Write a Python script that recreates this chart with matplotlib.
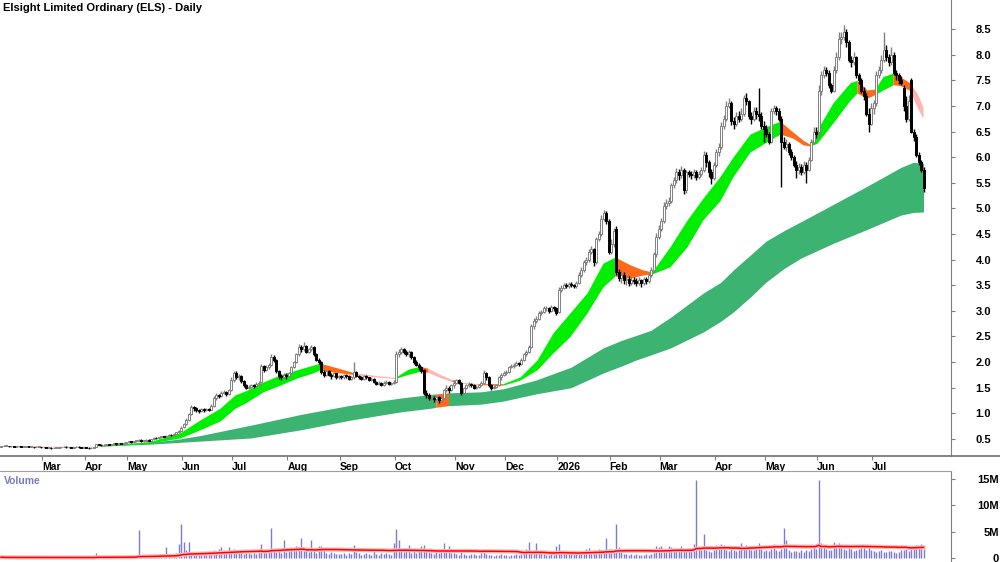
import numpy as np
import pandas as pd
import matplotlib
matplotlib.use('Agg')
import matplotlib.pyplot as plt
from matplotlib.lines import Line2D

plt.rcParams['font.family'] = ['Liberation Sans', 'DejaVu Sans']

# ---- daily OHLC (one row per month, Feb 2025 .. Jul 2026) ----
opens = [
    0.35,0.36,0.37,0.37,0.36,0.36,0.35,0.36,0.36,0.35,0.35,0.36,0.35,0.35,0.34,0.35,0.35,
    0.34,0.34,0.33,0.33,0.32,0.33,0.33,0.34,0.34,0.35,0.34,0.34,0.33,0.34,0.35,0.34,0.33,
    0.34,0.33,0.32,0.33,0.35,0.40,0.39,0.38,0.39,0.40,0.39,0.40,0.41,0.40,0.42,0.41,0.43,
    0.44,0.45,0.44,0.46,0.47,0.48,0.46,0.47,0.48,0.47,0.49,0.52,0.51,0.53,0.55,0.54,0.56,0.58,0.57,0.60,0.63,0.66,
    0.73,0.80,0.88,0.98,1.12,1.10,1.06,1.04,1.08,1.06,1.09,1.07,1.15,1.30,1.36,1.33,1.40,1.42,1.37,1.45,
    1.66,1.79,1.70,1.72,1.64,1.55,1.50,1.52,1.55,1.53,1.58,1.62,1.92,1.85,1.90,1.95,2.10,2.05,1.82,1.72,1.70,1.75,
    1.72,1.78,1.90,2.00,2.15,2.30,2.25,2.32,2.20,2.25,2.30,2.15,2.05,2.00,1.80,1.75,1.82,1.75,1.72,1.78,1.70,
    1.72,1.70,1.74,1.72,1.68,1.70,1.80,1.72,1.70,1.68,1.72,1.70,1.66,1.68,1.62,1.58,1.60,1.56,1.60,1.62,1.58,1.60,
    1.62,2.15,2.20,2.25,2.20,2.15,2.20,2.10,2.00,1.95,1.90,1.85,1.40,1.35,1.30,1.30,1.28,1.32,1.26,1.30,1.45,1.50,1.45,1.55,
    1.60,1.65,1.60,1.40,1.50,1.55,1.58,1.55,1.50,1.52,1.55,1.60,1.78,1.70,1.55,1.50,1.52,1.55,1.70,1.75,
    1.78,1.80,1.90,1.92,1.95,1.98,1.96,2.05,2.15,2.20,2.30,2.70,2.80,2.85,2.95,2.98,3.05,3.05,3.00,3.08,3.05,
    2.98,3.40,3.45,3.50,3.48,3.52,3.50,3.48,3.55,3.70,3.80,3.95,4.00,4.15,4.20,3.95,4.40,4.50,4.80,4.90,4.75,
    4.15,4.30,4.60,3.75,3.65,3.70,3.60,3.62,3.55,3.60,3.58,3.55,3.60,3.55,3.62,3.58,3.70,3.80,4.10,4.45,
    4.60,4.75,5.05,5.10,5.15,5.45,5.55,5.70,5.65,5.75,5.35,5.70,5.68,5.65,5.70,5.62,5.68,5.75,6.05,5.90,5.70,5.60,
    5.85,6.10,6.20,6.60,6.75,7.00,7.05,6.70,6.65,6.80,6.75,6.85,7.15,7.10,6.80,6.75,6.90,6.85,6.80,6.60,
    6.55,6.45,6.30,6.90,6.95,6.90,6.75,6.30,6.20,6.25,6.10,6.00,5.85,5.75,5.80,5.70,5.85,5.75,5.95,6.30,6.50,
    6.50,7.30,7.60,7.70,7.65,7.40,7.30,7.70,7.95,8.30,8.35,8.45,8.25,7.90,7.85,7.95,7.60,7.50,7.30,7.20,6.85,6.65,
    6.95,7.05,7.60,7.70,7.90,8.10,7.95,7.85,8.00,7.65,7.60,7.50,7.35,7.00,6.75,7.50,6.50,6.40,6.05,5.90,5.75,
]
highs = [
    0.37,0.38,0.38,0.37,0.37,0.36,0.37,0.37,0.36,0.36,0.37,0.36,0.36,0.35,0.36,0.36,0.35,
    0.35,0.35,0.34,0.34,0.34,0.34,0.35,0.35,0.36,0.36,0.35,0.35,0.35,0.36,0.36,0.35,0.35,
    0.35,0.34,0.34,0.35,0.41,0.41,0.40,0.40,0.41,0.41,0.41,0.42,0.42,0.43,0.43,0.44,0.45,
    0.46,0.46,0.47,0.48,0.50,0.49,0.48,0.49,0.49,0.50,0.54,0.53,0.54,0.56,0.56,0.57,0.59,0.59,0.61,0.64,0.68,0.75,
    0.82,0.90,1.00,1.16,1.15,1.12,1.08,1.10,1.10,1.11,1.10,1.18,1.33,1.40,1.38,1.43,1.46,1.43,1.48,1.70,
    1.83,1.82,1.76,1.74,1.66,1.58,1.56,1.58,1.58,1.61,1.64,1.96,1.95,1.94,1.99,2.16,2.14,2.06,1.84,1.76,1.79,1.78,
    1.80,1.93,2.03,2.18,2.36,2.33,2.39,2.33,2.28,2.34,2.31,2.18,2.08,2.02,1.84,1.85,1.84,1.78,1.80,1.79,1.75,
    1.75,1.77,1.76,1.74,1.72,2.00,1.82,1.74,1.72,1.75,1.74,1.71,1.70,1.69,1.64,1.63,1.62,1.63,1.65,1.64,1.62,1.65,
    2.22,2.26,2.30,2.28,2.24,2.24,2.22,2.12,2.04,1.98,1.93,1.86,1.45,1.40,1.34,1.34,1.35,1.34,1.33,1.48,1.55,1.53,1.58,1.66,
    1.68,1.68,1.62,1.52,1.58,1.61,1.60,1.57,1.55,1.57,1.63,1.84,1.80,1.72,1.57,1.55,1.58,1.73,1.78,1.82,
    1.84,1.93,1.96,1.98,2.02,2.00,2.08,2.18,2.24,2.34,2.75,2.86,2.90,2.99,3.02,3.10,3.10,3.08,3.12,3.10,3.07,
    3.46,3.50,3.55,3.54,3.57,3.56,3.53,3.58,3.76,3.85,4.00,4.06,4.20,4.27,4.22,4.45,4.56,4.88,4.97,4.95,4.80,
    4.40,4.62,4.65,3.82,3.78,3.75,3.70,3.68,3.66,3.66,3.64,3.66,3.62,3.66,3.66,3.75,3.86,4.15,4.52,4.68,
    4.82,5.12,5.18,5.22,5.50,5.62,5.78,5.76,5.82,5.78,5.75,5.74,5.72,5.76,5.74,5.72,5.80,6.12,6.10,5.95,5.76,5.90,
    6.15,6.28,6.68,6.82,7.10,7.15,7.10,6.78,6.88,6.90,6.95,7.22,7.25,7.12,6.88,6.98,6.98,7.35,6.88,6.70,
    6.62,6.50,6.95,7.02,7.00,6.95,6.80,6.40,6.35,6.30,6.15,6.05,5.92,5.88,5.86,5.92,5.90,6.00,6.36,6.58,6.58,
    7.40,7.68,7.78,7.76,7.70,7.45,7.78,8.05,8.45,8.45,8.58,8.50,8.28,7.98,8.05,7.98,7.65,7.55,7.36,7.25,6.95,7.05,
    7.12,7.68,7.78,8.00,8.45,8.18,8.02,8.15,8.05,7.70,7.65,7.58,7.40,7.20,7.22,7.55,6.55,6.45,6.10,5.95,5.80,
]
lows = [
    0.35,0.36,0.36,0.35,0.35,0.34,0.35,0.35,0.34,0.34,0.35,0.34,0.34,0.33,0.34,0.34,0.33,
    0.33,0.32,0.32,0.31,0.32,0.32,0.33,0.33,0.34,0.33,0.33,0.32,0.33,0.34,0.33,0.32,0.33,
    0.32,0.31,0.32,0.33,0.35,0.38,0.37,0.37,0.38,0.38,0.38,0.39,0.39,0.40,0.40,0.41,0.42,
    0.43,0.43,0.44,0.45,0.46,0.45,0.45,0.46,0.46,0.46,0.48,0.50,0.50,0.52,0.53,0.53,0.55,0.56,0.56,0.59,0.62,0.65,
    0.72,0.78,0.86,0.96,1.05,1.03,1.01,1.02,1.03,1.04,1.04,1.06,1.13,1.27,1.30,1.31,1.37,1.34,1.36,1.44,
    1.62,1.68,1.66,1.60,1.52,1.47,1.48,1.50,1.50,1.51,1.56,1.60,1.80,1.82,1.86,1.92,2.00,1.78,1.68,1.66,1.67,1.68,
    1.70,1.76,1.88,1.98,2.12,2.20,2.22,2.18,2.17,2.22,2.12,2.02,1.97,1.76,1.71,1.73,1.72,1.68,1.70,1.68,1.68,
    1.67,1.68,1.69,1.66,1.66,1.68,1.70,1.67,1.65,1.66,1.67,1.64,1.64,1.60,1.55,1.55,1.53,1.54,1.58,1.56,1.56,1.58,
    1.60,2.10,2.15,2.16,2.12,2.10,2.06,1.96,1.92,1.84,1.78,1.36,1.30,1.26,1.25,1.22,1.24,1.20,1.23,1.28,1.42,1.40,1.43,1.50,
    1.57,1.58,1.36,1.38,1.48,1.52,1.52,1.47,1.48,1.50,1.53,1.58,1.66,1.52,1.46,1.48,1.50,1.53,1.66,1.72,
    1.75,1.78,1.88,1.89,1.93,1.93,1.94,2.03,2.12,2.18,2.28,2.65,2.76,2.82,2.92,2.95,3.00,2.96,2.98,3.00,2.92,
    2.96,3.36,3.42,3.44,3.44,3.46,3.44,3.45,3.52,3.66,3.76,3.90,3.96,4.10,3.88,3.92,4.36,4.46,4.75,4.70,4.10,
    4.10,4.25,3.70,3.58,3.55,3.52,3.50,3.48,3.50,3.52,3.48,3.50,3.46,3.50,3.52,3.54,3.66,3.76,4.05,4.40,
    4.55,4.72,4.98,5.05,5.10,5.40,5.50,5.55,5.60,5.28,5.30,5.62,5.58,5.60,5.56,5.58,5.64,5.70,5.80,5.62,5.48,5.56,
    5.80,6.02,6.15,6.55,6.70,6.95,6.62,6.55,6.60,6.68,6.70,6.80,7.02,6.75,6.65,6.70,6.75,6.70,6.55,6.30,
    6.40,6.25,6.28,6.85,6.82,6.70,5.42,6.15,6.12,6.05,5.95,5.80,5.60,5.68,5.65,5.68,5.50,5.72,5.92,6.25,6.38,
    6.40,7.22,7.55,7.58,7.35,7.25,7.28,7.65,7.90,8.20,8.28,8.15,7.85,7.75,7.80,7.55,7.42,7.25,7.12,6.80,6.50,6.62,
    6.85,7.00,7.55,7.65,7.85,7.88,7.78,7.80,7.60,7.50,7.42,7.40,6.90,6.68,6.70,6.48,6.32,6.00,5.85,5.70,5.32,
]
closes = [
    0.36,0.37,0.37,0.36,0.36,0.35,0.36,0.36,0.35,0.35,0.36,0.35,0.35,0.34,0.35,0.35,0.34,
    0.34,0.33,0.33,0.32,0.33,0.33,0.34,0.34,0.35,0.34,0.34,0.33,0.34,0.35,0.34,0.33,0.34,
    0.33,0.32,0.33,0.34,0.40,0.39,0.38,0.39,0.40,0.39,0.40,0.41,0.40,0.42,0.41,0.43,0.44,
    0.45,0.44,0.46,0.47,0.48,0.46,0.47,0.48,0.47,0.49,0.52,0.51,0.53,0.55,0.54,0.56,0.58,0.57,0.60,0.63,0.66,0.72,
    0.80,0.88,0.98,1.12,1.10,1.06,1.04,1.08,1.06,1.09,1.07,1.15,1.30,1.36,1.33,1.40,1.42,1.37,1.45,1.66,
    1.79,1.70,1.72,1.64,1.55,1.50,1.52,1.55,1.53,1.58,1.60,1.92,1.85,1.90,1.95,2.10,2.05,1.82,1.72,1.70,1.75,1.72,
    1.78,1.90,2.00,2.15,2.30,2.25,2.32,2.20,2.25,2.30,2.15,2.05,2.00,1.80,1.75,1.82,1.75,1.72,1.78,1.70,1.72,
    1.70,1.74,1.72,1.68,1.70,1.80,1.72,1.70,1.68,1.72,1.70,1.66,1.68,1.62,1.58,1.60,1.56,1.60,1.62,1.58,1.60,1.62,
    2.15,2.20,2.25,2.20,2.15,2.20,2.10,2.00,1.95,1.90,1.82,1.40,1.35,1.30,1.30,1.28,1.32,1.26,1.30,1.45,1.50,1.45,1.55,1.60,
    1.65,1.60,1.40,1.50,1.55,1.58,1.55,1.50,1.52,1.55,1.60,1.78,1.70,1.55,1.50,1.52,1.55,1.70,1.75,1.78,
    1.80,1.90,1.92,1.95,1.98,1.96,2.05,2.15,2.20,2.30,2.70,2.80,2.85,2.95,2.98,3.05,3.05,3.00,3.08,3.05,2.95,
    3.40,3.45,3.50,3.48,3.52,3.50,3.48,3.55,3.70,3.80,3.95,4.00,4.15,4.20,3.95,4.40,4.50,4.80,4.90,4.75,4.15,
    4.30,4.55,3.75,3.65,3.70,3.60,3.62,3.55,3.60,3.58,3.55,3.60,3.55,3.62,3.58,3.70,3.80,4.10,4.45,4.60,
    4.75,5.05,5.10,5.15,5.45,5.55,5.70,5.65,5.75,5.35,5.70,5.68,5.65,5.70,5.62,5.68,5.75,6.05,5.90,5.70,5.60,5.85,
    6.10,6.20,6.60,6.75,7.00,7.05,6.70,6.65,6.80,6.75,6.85,7.15,7.10,6.80,6.75,6.90,6.85,6.80,6.60,6.55,
    6.45,6.30,6.90,6.95,6.90,6.75,6.30,6.20,6.25,6.10,6.00,5.85,5.75,5.80,5.70,5.85,5.75,5.95,6.30,6.50,6.45,
    7.30,7.60,7.70,7.65,7.40,7.30,7.70,7.95,8.30,8.35,8.45,8.25,7.90,7.85,7.95,7.60,7.50,7.30,7.20,6.85,6.65,6.95,
    7.05,7.60,7.70,7.90,8.10,7.95,7.85,8.00,7.65,7.60,7.50,7.45,7.00,6.75,7.10,6.50,6.40,6.05,5.90,5.75,5.40,
]
# volume in millions of shares
volume = [
    0.15,0.10,0.08,0.12,0.05,0.10,0.20,0.08,0.06,0.10,0.12,0.05,0.08,0.10,0.06,0.10,0.08,
    0.10,0.08,0.25,0.06,0.05,0.10,0.08,0.12,0.06,0.05,0.10,0.08,0.15,0.06,0.10,0.05,0.08,
    0.10,0.08,0.05,0.12,0.90,0.40,0.25,0.20,0.30,0.15,0.20,0.25,0.15,0.30,0.20,0.35,0.25,
    0.30,0.40,0.25,0.35,5.30,0.30,0.45,0.30,0.50,0.40,0.60,0.35,0.50,0.45,0.40,2.10,0.55,0.60,0.50,0.90,2.60,6.40,
    3.00,1.50,3.00,1.20,1.00,0.80,0.60,0.90,0.70,0.80,0.90,1.20,1.50,1.30,1.80,2.00,1.50,1.20,2.00,1.60,
    1.80,1.20,1.00,1.30,0.80,0.90,1.00,0.70,0.90,0.80,1.20,2.60,1.40,1.00,1.80,5.70,1.50,1.20,1.80,1.00,3.40,1.20,
    1.80,2.00,1.50,2.20,1.60,3.80,1.40,1.80,1.20,3.40,1.30,1.00,2.20,2.30,1.50,1.00,0.80,1.10,0.90,0.70,0.80,
    0.70,0.90,0.60,1.00,0.80,2.50,1.20,0.90,0.60,0.80,1.00,0.70,0.50,1.30,0.80,0.60,0.90,0.70,1.00,0.80,0.60,2.80,
    5.60,3.40,1.50,1.20,1.80,2.50,1.00,1.30,0.90,1.60,2.30,2.40,1.50,1.20,1.00,0.80,1.10,0.90,1.50,2.80,1.30,2.20,1.00,0.90,
    0.80,0.60,1.20,0.70,0.50,0.60,0.80,0.70,0.50,0.60,0.90,1.80,0.80,0.60,0.50,0.40,0.60,0.50,0.70,0.60,
    0.50,0.40,0.60,0.50,0.70,0.50,0.80,1.00,1.80,3.00,1.30,1.20,2.80,1.00,0.90,0.70,0.60,0.50,0.70,0.60,2.20,
    2.60,1.20,1.00,0.90,1.10,0.80,0.90,1.20,1.00,1.40,1.20,1.80,1.90,1.30,1.50,1.20,1.80,1.60,1.40,3.80,1.80,
    1.80,1.40,6.40,2.00,1.20,0.80,0.70,0.60,0.80,0.50,0.70,0.60,0.50,0.60,0.70,0.60,0.80,1.00,2.30,2.00,
    2.20,1.60,1.40,2.30,2.10,1.50,1.30,1.60,2.20,1.40,1.50,1.60,1.30,2.60,14.90,1.80,1.50,4.50,1.60,1.30,1.20,1.50,
    2.40,2.00,2.60,2.50,1.60,1.40,1.80,1.50,1.30,1.60,2.90,2.10,2.40,1.80,1.50,1.60,2.20,2.80,1.70,1.40,
    1.60,1.40,1.80,2.60,1.50,1.30,1.70,5.70,3.40,1.50,1.20,1.40,1.30,1.10,1.60,1.20,1.50,1.40,1.80,2.00,1.70,
    14.90,2.80,2.00,1.80,1.60,1.50,3.00,2.00,2.90,2.20,1.80,1.60,1.90,1.70,1.40,1.50,1.80,2.30,2.30,1.60,2.30,1.50,
    1.40,1.20,1.30,1.50,1.20,1.10,1.30,1.40,1.20,1.00,1.20,1.50,1.60,1.80,1.40,2.00,2.20,2.50,2.30,2.60,1.80,
]

month_labels = ['Mar', 'Apr', 'May', 'Jun', 'Jul', 'Aug', 'Sep', 'Oct', 'Nov', 'Dec',
                '2026', 'Feb', 'Mar', 'Apr', 'May', 'Jun', 'Jul']
bars_per_month = [17, 17, 17, 22, 20, 22, 21, 22, 24, 20, 21, 21, 20, 22, 20, 21, 22, 21]

# short-term moving average band: bar, top, bottom, trend of next segment
short_x = [0, 15.6, 37.6, 47.6, 59.6, 71.6, 79.6, 87.6, 93.6, 98.4, 104.8, 111.6, 118.4, 124.8,
           127.6, 133.6, 140.8, 149.6, 157.6, 162.8, 167.6, 170.8, 175.6, 180.4, 184.4, 190.8,
           200.8, 207.6, 214.4, 220.8, 227.6, 234.4, 240.8, 245.6, 251.6, 256.8, 260.4, 267.6,
           274.4, 280.8, 287.6, 292.8, 299.6, 306.4, 311.6, 316.8, 320.8, 323.6, 326.4, 332.8,
           339.6, 342.4, 346.4, 349.6, 352.8, 356.8, 359.6, 363.6, 366.4, 368.8]
short_top = [0.365, 0.36, 0.36, 0.40, 0.45, 0.62, 0.87, 1.10, 1.36, 1.45, 1.61, 1.75, 1.85, 1.94,
             1.98, 1.90, 1.80, 1.74, 1.70, 1.86, 1.92, 1.88, 1.76, 1.66, 1.61, 1.58,
             1.58, 1.71, 2.04, 2.57, 2.96, 3.35, 3.93, 4.05, 3.90, 3.80, 3.76, 4.25,
             4.77, 5.20, 5.62, 6.00, 6.45, 6.60, 6.70, 6.49, 6.33, 6.25, 6.53, 7.06,
             7.45, 7.50, 7.31, 7.33, 7.57, 7.64, 7.57, 7.45, 7.25, 6.98]
short_bot = [0.355, 0.35, 0.355, 0.38, 0.42, 0.52, 0.68, 0.85, 1.10, 1.22, 1.42, 1.55, 1.69, 1.79,
             1.85, 1.80, 1.76, 1.71, 1.68, 1.76, 1.82, 1.80, 1.70, 1.62, 1.59, 1.56,
             1.55, 1.65, 1.85, 2.18, 2.50, 2.96, 3.47, 3.68, 3.64, 3.70, 3.72, 3.86,
             4.25, 4.78, 5.15, 5.62, 6.10, 6.30, 6.45, 6.37, 6.24, 6.22, 6.27, 6.67,
             7.11, 7.25, 7.15, 7.22, 7.31, 7.41, 7.40, 7.30, 6.98, 6.76]
short_trend = (['down', 'flat'] + ['up'] * 12 + ['down'] * 2 + ['flat'] * 2 + ['up'] * 2
               + ['down', 'flat', 'flat', 'down', 'flat', 'down'] + ['up'] * 7 + ['down'] * 3
               + ['up'] * 8 + ['down'] * 3 + ['up'] * 4 + ['down'] * 2 + ['up'] * 2
               + ['down'] * 2 + ['flat'] * 2)

# long-term moving average band
long_x = [40, 60, 70, 80, 100, 120, 140, 160, 172, 174, 179, 192, 201, 214, 228, 241, 248, 254,
          260, 268, 281, 288, 293, 300, 306, 313, 320, 333, 346, 360, 365, 369]
long_top = [0.37, 0.44, 0.49, 0.57, 0.77, 0.98, 1.16, 1.30, 1.37, 1.38, 1.40, 1.42, 1.48, 1.65,
            1.90, 2.28, 2.42, 2.52, 2.62, 2.88, 3.35, 3.56, 3.80, 4.10, 4.36, 4.56, 4.74, 5.08,
            5.42, 5.80, 5.90, 5.88]
long_bot = [0.36, 0.40, 0.43, 0.46, 0.52, 0.68, 0.87, 1.03, 1.10, 1.12, 1.15, 1.18, 1.24, 1.38,
            1.50, 1.79, 1.92, 2.04, 2.14, 2.28, 2.59, 2.80, 2.98, 3.28, 3.56, 3.82, 4.03, 4.32,
            4.58, 4.87, 4.92, 4.93]
long_trend = ['up'] * 9 + ['down'] + ['up'] * 21

short_colors = {'up': '#00EE00', 'down': '#FF6A1A', 'flat': '#FFB5B5'}
long_colors = {'up': '#3CB371', 'down': '#FF6A1A'}


def draw_band(ax, xs, tops, bots, trend, colors):
    # merge consecutive segments of the same colour so no seams show
    start = 0
    for k in range(1, len(trend) + 1):
        if k == len(trend) or trend[k] != trend[start]:
            ax.fill_between(xs[start:k + 1], bots[start:k + 1], tops[start:k + 1],
                            color=colors[trend[start]], lw=0, zorder=1)
            start = k


o = np.array(opens)
h = np.array(highs)
l = np.array(lows)
c = np.array(closes)
v = np.array(volume)
x = np.arange(len(c))
vol_ma = pd.Series(v).rolling(50, min_periods=1).mean()

fig = plt.figure(figsize=(10, 5.62), dpi=100)
ax = fig.add_axes([0, 106 / 562, 0.951, 456 / 562])
axv = fig.add_axes([0, 0, 0.951, 91 / 562])

draw_band(ax, long_x, long_top, long_bot, long_trend, long_colors)
draw_band(ax, short_x, short_top, short_bot, short_trend, short_colors)

up = c >= o
gray = '#808080'
body_low = np.minimum(o, c)
body_h = np.maximum(np.abs(c - o), 0.012)
ax.vlines(x[up], l[up], h[up], color=gray, lw=1.0, zorder=2)
ax.vlines(x[~up], l[~up], h[~up], color='black', lw=1.0, zorder=2)
ax.bar(x[up], body_h[up], bottom=body_low[up], width=0.8, color='white',
       edgecolor=gray, linewidth=0.7, zorder=3)
ax.bar(x[~up], body_h[~up], bottom=body_low[~up], width=0.8, color='black',
       edgecolor='black', linewidth=0.7, zorder=3)

ax.set_xlim(-0.4, 380)
ax.set_ylim(0.168, 9.066)
ax.yaxis.tick_right()
ax.set_yticks(np.arange(0.5, 8.75, 0.5))
ax.set_yticklabels(['%.1f' % t for t in np.arange(0.5, 8.75, 0.5)])
ax.tick_params(axis='y', direction='out', length=3, color=gray, pad=25.9,
               labelsize=8)
for t in ax.get_yticklabels():
    t.set_horizontalalignment('right')
    t.set_fontweight('bold')

month_pos = np.cumsum(bars_per_month)[:-1] - 0.5
ax.set_xticks(month_pos)
ax.set_xticklabels(month_labels, ha='left', fontsize=7.5, fontweight='bold')
ax.tick_params(axis='x', direction='out', length=3, color=gray, pad=1)

for s in ['top', 'left', 'bottom']:
    ax.spines[s].set_visible(False)
ax.spines['right'].set_color(gray)

fig.add_artist(Line2D([0, 1], [106 / 562, 106 / 562], color='#707070', lw=1.2))

axv.vlines(x, 0, v, color='#7B7BD0', lw=1.0)
axv.plot(x, vol_ma, color='#FFB8B8', lw=3, zorder=2)
axv.plot(x, vol_ma, color='#FF0000', lw=1.1, zorder=3)
axv.set_xlim(-0.4, 380)
axv.set_ylim(-0.76, 16.52)
axv.yaxis.tick_right()
axv.set_yticks([0, 5, 10, 15])
axv.set_yticklabels(['0', '5M', '10M', '15M'])
axv.tick_params(axis='y', direction='out', length=3, color=gray, pad=31.7,
                labelsize=8)
for t in axv.get_yticklabels():
    t.set_horizontalalignment('right')
    t.set_fontweight('bold')
axv.set_xticks([])
for s in ['left', 'bottom']:
    axv.spines[s].set_visible(False)
axv.spines['right'].set_color(gray)
axv.spines['top'].set_color('#A0A0A0')
axv.text(0.004, 0.89, 'Volume', transform=axv.transAxes, color='#7B7BC0',
         fontsize=7.5, fontweight='bold', va='center')

fig.text(0.003, 1 - 8 / 562, 'Elsight Limited Ordinary (ELS) - Daily',
         fontsize=8, fontweight='bold', va='center')

fig.savefig('out.png', dpi=100)
